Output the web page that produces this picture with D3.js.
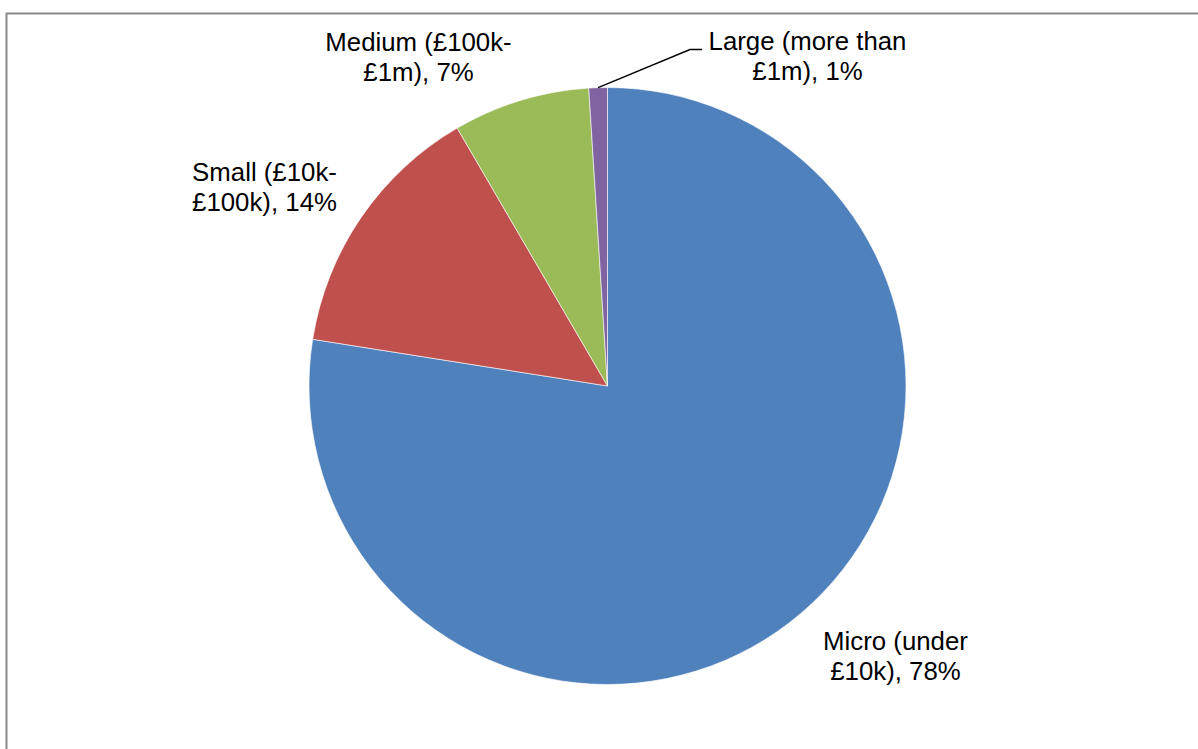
<!DOCTYPE html>
<html>
<head>
<meta charset="utf-8">
<script src="https://cdn.jsdelivr.net/npm/d3@7"></script>
<style>
  html, body { margin: 0; padding: 0; background: #fff; }
  svg { display: block; }
  text { font-family: "Liberation Sans", Arial, sans-serif; fill: #000; }
</style>
</head>
<body>
<svg id="chart" width="1198" height="749"></svg>
<script>
// Share of organisations by income band
const categories = ["Micro (under £10k)", "Small (£10k-£100k)", "Medium (£100k-£1m)", "Large (more than £1m)"];
const labelLines = [
  ["Micro (under", "£10k), "],
  ["Small (£10k-", "£100k), "],
  ["Medium (£100k-", "£1m), "],
  ["Large (more than", "£1m), "]
];
const shares = [77.5, 14.1, 7.4, 1.0];
const colors = ["#4F81BD", "#C0504D", "#9BBB59", "#8064A2"];

// Layout
const W = 1198, H = 749;
const cx = 607.5, cy = 386, R = 298.5;
const fontSize = 25.8, lineHeight = 30;
// label block centre (x) and first baseline (y), relative to pie centre
const labelAnchors = [
  [288, 264],
  [-343, -205],
  [-189, -335],
  [200, -336]
];
const leaderLabels = [false, false, false, true];

const svg = d3.select("#chart");

// chart frame
svg.append("rect")
  .attr("x", 6.5).attr("y", 13.5)
  .attr("width", W + 10).attr("height", H + 10)
  .attr("fill", "#fff")
  .attr("stroke", "#898989")
  .attr("stroke-width", 2);

const data = categories.map((c, i) => ({ name: c, value: shares[i], i }));

const pie = d3.pie().value(d => d.value).sort(null).startAngle(0).endAngle(2 * Math.PI);
const arcs = pie(data);
const arc = d3.arc().innerRadius(0).outerRadius(R);

const g = svg.append("g").attr("transform", `translate(${cx},${cy})`);

g.selectAll("path.slice")
  .data(arcs)
  .join("path")
  .attr("class", "slice")
  .attr("d", arc)
  .attr("fill", d => colors[d.data.i])
  .attr("stroke", "#fff")
  .attr("stroke-width", 0.6);

// labels
const lbl = g.selectAll("text.lbl")
  .data(arcs)
  .join("text")
  .attr("class", "lbl")
  .attr("text-anchor", "middle")
  .attr("font-size", fontSize);

lbl.each(function(d) {
  const [ax, ay] = labelAnchors[d.data.i];
  const lines = labelLines[d.data.i].slice();
  lines[1] = lines[1] + Math.round(d.data.value) + "%";
  d3.select(this).selectAll("tspan")
    .data(lines)
    .join("tspan")
    .attr("x", ax)
    .attr("y", (t, k) => ay + k * lineHeight)
    .text(t => t);
});

// leader line for the thin slice
arcs.filter(d => leaderLabels[d.data.i]).forEach(d => {
  const mid = (d.startAngle + d.endAngle) / 2;
  const p0 = [R * Math.sin(mid), -R * Math.cos(mid)];
  const [ax, ay] = labelAnchors[d.data.i];
  const yLine = ay - 0.5;
  const p1 = [ax - 117.5, yLine];
  const p2 = [ax - 105.5, yLine];
  g.append("path")
    .attr("d", d3.line()([p0, p1, p2]))
    .attr("fill", "none")
    .attr("stroke", "#000")
    .attr("stroke-width", 1.5);
});
</script>
</body>
</html>
